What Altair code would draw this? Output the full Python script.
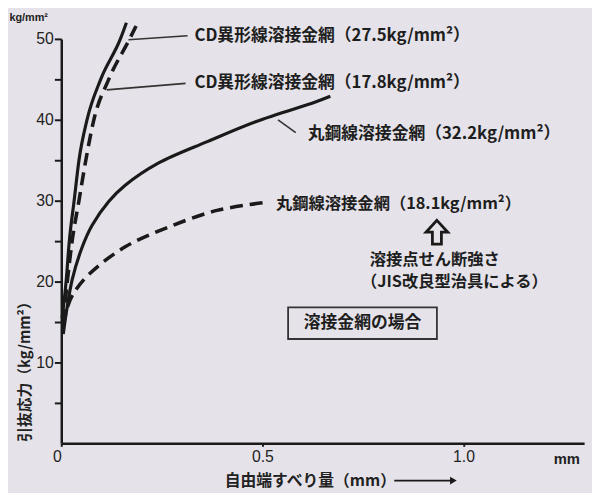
import altair as alt
import pandas as pd

# ---- curve data (x: free-end slip mm, y: pull-out stress kg/mm2) ----
cd275_x = [0.002, 0.012, 0.020, 0.032, 0.044, 0.064, 0.098, 0.147, 0.162]
cd275_y = [15.5, 20.0, 25.0, 30.0, 35.0, 40.0, 45.0, 50.0, 52.0]

cd178_x = [0.005, 0.015, 0.027, 0.044, 0.061, 0.081, 0.118, 0.170, 0.186]
cd178_y = [15.0, 20.0, 25.0, 30.0, 35.0, 40.0, 45.0, 50.0, 51.6]

rd322_x = [0.005, 0.012, 0.027, 0.050, 0.076, 0.118, 0.159, 0.240, 0.363, 0.485, 0.632, 0.669]
rd322_y = [13.5, 16.0, 20.2, 24.0, 26.9, 29.9, 31.9, 34.6, 37.3, 39.8, 42.2, 42.9]

rd181_x = [0.004, 0.015, 0.030, 0.069, 0.159, 0.265, 0.387, 0.510]
rd181_y = [14.5, 16.8, 18.5, 20.9, 24.3, 26.7, 28.8, 29.8]

# ---- annotation texts ----
label_text = ["CD異形線溶接金網（27.5kg/mm²）", "CD異形線溶接金網（17.8kg/mm²）",
              "丸鋼線溶接金網（32.2kg/mm²）", "丸鋼線溶接金網（18.1kg/mm²）",
              "溶接点せん断強さ", "（JIS改良型治具による）"]
label_x = [0.331, 0.331, 0.613, 0.534, 0.767, 0.745]
label_y = [50.4, 44.6, 38.2, 29.6, 22.7, 20.0]
label_size = [17, 17, 17, 16.5, 16.5, 16.5]

leader_x = [0.167, 0.113, 0.539]
leader_y = [49.9, 43.7, 40.0]
leader_x2 = [0.314, 0.309, 0.583]
leader_y2 = [50.4, 44.5, 38.4]

box_text = ["溶接金網の場合"]
box_x, box_x2 = [0.564], [0.934]
box_y, box_y2 = [16.8], [12.9]

x_ticks = [0, 0.5, 1.0]
y_ticks = [5, 10, 15, 20, 25, 30, 35, 40, 45, 50]

BG = "#e5e3e9"
INK = "#1a1a1a"
JP = "Noto Sans CJK JP"
NUM = "Liberation Sans"
UP_ARROW = "M0,-1 L0.92,0 L0.38,0 L0.38,1 L-0.38,1 L-0.38,0 L-0.92,0 Z"

xs = alt.Scale(domain=[0, 1.3], nice=False, zero=False)
ys = alt.Scale(domain=[0, 50], nice=False, zero=False)


def curve(xv, yv, dash, interp="monotone"):
    df = pd.DataFrame({"x": xv, "y": yv})
    kw = dict(color=INK, strokeWidth=3.2, interpolate=interp, clip=False)
    if dash:
        kw["strokeDash"] = [13, 7]
        kw["strokeWidth"] = 3.6
    return alt.Chart(df).mark_line(**kw).encode(
        x=alt.X("x:Q", scale=xs), y=alt.Y("y:Q", scale=ys))


base = alt.Chart(pd.DataFrame({"x": rd322_x, "y": rd322_y})).mark_line(
    color=INK, strokeWidth=3.2, interpolate="catmull-rom", clip=False
).encode(
    x=alt.X("x:Q", scale=xs, axis=alt.Axis(
        values=x_ticks, labelExpr="datum.value == 0 ? '0' : format(datum.value, '.1f')",
        labelOffset={"condition": {"test": "datum.value == 0", "value": -9}, "value": 0},
        domainColor=INK, domainWidth=2.5, tickColor=INK, tickWidth=2, tickSize=3,
        labelFont=NUM, labelFontSize=16, labelColor="#222", labelPadding=2,
        grid=False, title="自由端すべり量（mm）", titleFont=JP, titleFontSize=16,
        titleFontWeight="bold", titleColor="#222", titleX=252, titleY=38,
        titleAlign="center", titleBaseline="middle")),
    y=alt.Y("y:Q", scale=ys, axis=alt.Axis(
        values=y_ticks, labelExpr="datum.value % 10 == 0 ? datum.value : ''",
        domainColor=INK, domainWidth=2.5, tickColor=INK, tickWidth=2, tickSize=7,
        labelFont=NUM, labelFontSize=16, labelColor="#222", labelPadding=1,
        grid=False, title="引抜応力（kg/mm²）", titleFont=JP, titleFontSize=15,
        titleFontWeight="bold", titleColor="#222", titleAngle=270, titleAlign="left",
        titleBaseline="middle", titleX=-37, titleY=408)),
)

layers = [base,
          curve(cd275_x, cd275_y, False),
          curve(cd178_x, cd178_y, True),
          curve(rd181_x, rd181_y, True, "catmull-rom")]

leaders = alt.Chart(pd.DataFrame({"x": leader_x, "y": leader_y, "x2": leader_x2, "y2": leader_y2})
                    ).mark_rule(color="#333", strokeWidth=1.6).encode(
    x=alt.X("x:Q", scale=xs), y=alt.Y("y:Q", scale=ys), x2="x2:Q", y2="y2:Q")

labels = alt.Chart(pd.DataFrame({"x": label_x, "y": label_y, "t": label_text, "s": label_size})).mark_text(
    font=JP, fontWeight="bold", color="#1e1e1e", align="left", baseline="middle"
).encode(x=alt.X("x:Q", scale=xs), y=alt.Y("y:Q", scale=ys), text="t:N",
         size=alt.Size("s:Q", scale=None, legend=None))

arrow_up = alt.Chart(pd.DataFrame({"x": [0.934], "y": [26.1]})).mark_point(
    shape=UP_ARROW, filled=False, color=INK, strokeWidth=2.8, size=576, opacity=1
).encode(x=alt.X("x:Q", scale=xs), y=alt.Y("y:Q", scale=ys))

box = alt.Chart(pd.DataFrame({"x": box_x, "x2": box_x2, "y": box_y, "y2": box_y2})).mark_rect(
    fill=BG, stroke="#333", strokeWidth=1.8).encode(
    x=alt.X("x:Q", scale=xs), x2="x2:Q", y=alt.Y("y:Q", scale=ys), y2="y2:Q")

box_label = alt.Chart(pd.DataFrame({"x": [(box_x[0] + box_x2[0]) / 2],
                                    "y": [(box_y[0] + box_y2[0]) / 2], "t": box_text})).mark_text(
    font=JP, fontSize=17, fontWeight="bold", color="#1e1e1e", align="center", baseline="middle"
).encode(x=alt.X("x:Q", scale=xs), y=alt.Y("y:Q", scale=ys), text="t:N")

units = alt.Chart(pd.DataFrame({"x": [-0.081, 1.257], "y": [52.6, -2.0],
                                "t": ["kg/mm²", "mm"], "s": [11, 15]})).mark_text(
    font=NUM, fontWeight="bold", color="#222", align="center", baseline="middle", clip=False
).encode(x=alt.X("x:Q", scale=xs), y=alt.Y("y:Q", scale=ys), text="t:N",
         size=alt.Size("s:Q", scale=None, legend=None))

x_arrow = alt.Chart(pd.DataFrame({"x": [0.828], "x2": [0.972], "y": [-4.6]})).mark_rule(
    color=INK, strokeWidth=1.8).encode(x=alt.X("x:Q", scale=xs), x2="x2:Q", y=alt.Y("y:Q", scale=ys))
x_head = alt.Chart(pd.DataFrame({"x": [0.975], "y": [-4.6]})).mark_point(
    shape="triangle-right", filled=True, color=INK, size=60, opacity=1).encode(
    x=alt.X("x:Q", scale=xs), y=alt.Y("y:Q", scale=ys))

chart = alt.layer(*layers, leaders, labels, arrow_up, box, box_label, units, x_arrow, x_head).properties(
    width=530, height=410, autosize="none",
    padding={"left": 54, "top": 28, "right": 8, "bottom": 47},
    background=BG,
).configure_view(stroke=None)

chart.save("out.html", embed_options={"renderer": "svg", "actions": False})
